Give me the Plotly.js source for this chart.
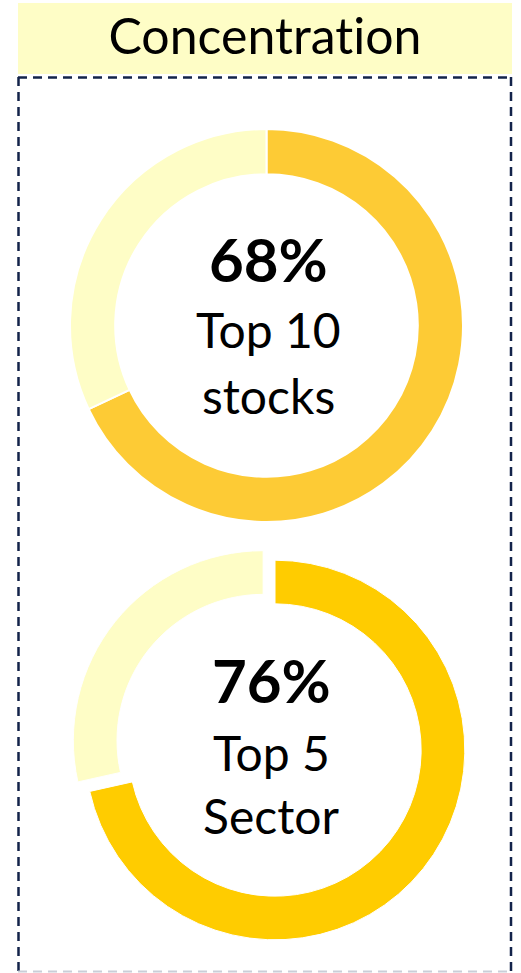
<!DOCTYPE html>
<html>
<head>
<meta charset="utf-8">
<script src="https://cdn.plot.ly/plotly-3.0.1.min.js"></script>
<style>
  html, body { margin: 0; padding: 0; background: #ffffff; }
  #chart { width: 521px; height: 973px; }
  #chart text { font-variant-ligatures: none; font-feature-settings: "liga" 0; }
</style>
</head>
<body>
<div id="chart"></div>
<script>
// Chart data
const headerTitle = "Concentration";
const shareLabels = ["68%", "76%"];
const lineOne = ["Top 10", "Top 5"];
const lineTwo = ["stocks", "Sector"];
const topValues = [68, 32];         // top 10 stocks vs rest (arc as drawn)
const sectorValues = [71.5, 28.5];  // top 5 sectors vs rest (arc as drawn)

const W = 521;
const H = 973;
const px = (x) => x / W;
const py = (y) => 1 - y / H;

const FONT = "Lato, 'Open Sans', sans-serif";

// First donut
const donutTop = {
    type: "pie",
    values: topValues,
    labels: ["Top 10", "Rest"],
    hole: 0.77,
    sort: false,
    direction: "clockwise",
    rotation: 0,
    textinfo: "none",
    hoverinfo: "none",
    marker: { colors: ["#FDCB35", "#FEFDC6"], line: { color: "#ffffff", width: 2 } },
    domain: { x: [px(70), px(463)], y: [py(522), py(129)] },
    showlegend: false,
};

// Second donut, rest slice pulled out
const donutSector = {
    type: "pie",
    values: sectorValues,
    labels: ["Top 5", "Rest"],
    hole: 0.77,
    sort: false,
    direction: "clockwise",
    rotation: 0,
    pull: [0, 0.08],
    textinfo: "none",
    hoverinfo: "none",
    marker: { colors: ["#FFCC00", "#FEFDC6"], line: { color: "#ffffff", width: 1 } },
    domain: { x: [px(70), px(480)], y: [py(955), py(545)] },
    showlegend: false,
};

// Texts in the donut centres
const centres = [
    { x: 268, lines: [259, 330, 395] },
    { x: 271, lines: [680, 752, 815] },
];
const annotations = [];
centres.forEach((c, i) => {
    annotations.push({
        xref: "paper", yref: "paper", x: px(c.x), y: py(c.lines[0]),
        text: "<b>" + shareLabels[i] + "</b>", showarrow: false,
        xanchor: "center", yanchor: "middle",
        font: { family: FONT, size: 60, color: "#000000" },
    });
    annotations.push({
        xref: "paper", yref: "paper", x: px(c.x), y: py(c.lines[1]),
        text: lineOne[i], showarrow: false,
        xanchor: "center", yanchor: "middle",
        font: { family: FONT, size: 48, color: "#000000" },
    });
    annotations.push({
        xref: "paper", yref: "paper", x: px(c.x), y: py(c.lines[2]),
        text: lineTwo[i], showarrow: false,
        xanchor: "center", yanchor: "middle",
        font: { family: FONT, size: 48, color: "#000000" },
    });
});

// Header text
annotations.push({
    xref: "paper", yref: "paper", x: px(265), y: py(35),
    text: headerTitle, showarrow: false,
    xanchor: "center", yanchor: "middle",
    font: { family: FONT, size: 50, color: "#000000" },
});

const navy = "#13234A";
const dash = "9px,6px";
const shapes = [
    // header band
    { type: "rect", xref: "paper", yref: "paper", x0: px(18), x1: px(512), y0: py(74), y1: py(3),
      fillcolor: "#FEFDC6", line: { width: 0 }, layer: "below" },
    // dashed box
    { type: "line", xref: "paper", yref: "paper", x0: px(18), x1: px(511), y0: py(77.5), y1: py(77.5),
      line: { color: navy, width: 2.5, dash: dash } },
    { type: "line", xref: "paper", yref: "paper", x0: px(18.5), x1: px(18.5), y0: py(77), y1: py(972),
      line: { color: navy, width: 2.5, dash: dash } },
    { type: "line", xref: "paper", yref: "paper", x0: px(511), x1: px(511), y0: py(77), y1: py(972),
      line: { color: navy, width: 2.5, dash: dash } },
    { type: "line", xref: "paper", yref: "paper", x0: px(18), x1: px(511), y0: py(971.5), y1: py(971.5),
      line: { color: "#C9CED8", width: 2, dash: dash } },
];

const layout = {
    width: W,
    height: H,
    margin: { l: 0, r: 0, t: 0, b: 0 },
    paper_bgcolor: "#ffffff",
    plot_bgcolor: "#ffffff",
    showlegend: false,
    annotations: annotations,
    shapes: shapes,
};

Plotly.newPlot("chart", [donutTop, donutSector], layout, { displayModeBar: false, staticPlot: true });
</script>
</body>
</html>
